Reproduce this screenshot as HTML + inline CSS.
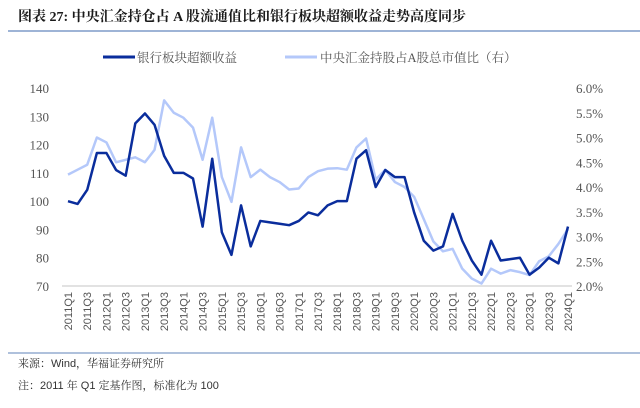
<!DOCTYPE html>
<html><head><meta charset="utf-8"><style>
body{margin:0;background:#fff;width:640px;height:403px;overflow:hidden;font-family:"Liberation Serif","Noto Serif CJK SC",serif;}
</style></head><body>
<svg width="640" height="403" xmlns="http://www.w3.org/2000/svg">
<text x="18" y="21" font-size="14" font-weight="bold" fill="#1a1a1a" font-family="Liberation Serif, Noto Serif CJK SC, serif">图表 27:  中央汇金持仓占 A 股流通值比和银行板块超额收益走势高度同步</text>
<line x1="8" y1="31" x2="640" y2="31" stroke="#7f9cc8" stroke-width="1.5"/>
<g font-family="Liberation Serif, Noto Serif CJK SC, serif" font-size="12.5" fill="#555">
<line x1="103" y1="57" x2="135" y2="57" stroke="#0a2d9c" stroke-width="3"/>
<text x="137" y="62">银行板块超额收益</text>
<line x1="285" y1="57" x2="317" y2="57" stroke="#b4c8fa" stroke-width="3"/>
<text x="320" y="62">中央汇金持股占A股总市值比（右）</text>
</g>
<g id="plot"></g>
<line x1="8" y1="353" x2="640" y2="353" stroke="#7f9cc8" stroke-width="1.2"/>
<text x="18" y="367" font-size="11" fill="#333" font-family="Liberation Sans, Noto Serif CJK SC, sans-serif">来源：Wind，华福证券研究所</text>
<text x="18" y="389" font-size="11" fill="#333" font-family="Liberation Sans, Noto Serif CJK SC, sans-serif">注：2011 年 Q1 定基作图，标准化为 100</text>
</svg>
<script>
const bankValues=[100,99,104,117,117,111,109,127.5,131,127,116,110,110,108,91,115,89,81,98.5,84,93,92.5,92,91.5,93,96,95,98.5,100,100,115,118,105,111,108.5,108.5,96,86,82.5,84,95.5,86,79,74,86,79,79.5,80,74,76.5,80,78,91];
const huijinValues=[4.25,4.35,4.45,5.0,4.9,4.5,4.55,4.6,4.5,4.75,5.75,5.5,5.4,5.2,4.55,5.4,4.2,3.7,4.8,4.2,4.35,4.2,4.1,3.95,3.97,4.2,4.32,4.37,4.38,4.35,4.8,4.98,4.15,4.35,4.1,4.0,3.8,3.35,2.9,2.7,2.75,2.35,2.15,2.05,2.35,2.25,2.32,2.28,2.22,2.5,2.6,2.85,3.15];
const leftTicks=[70,80,90,100,110,120,130,140];
const rightTicks=[2.0,2.5,3.0,3.5,4.0,4.5,5.0,5.5,6.0];
const startYear=2011;
const NS="http://www.w3.org/2000/svg";
const g=document.getElementById('plot');
const x0=68,x1=568,yTop=88,yBot=286;
const n=bankValues.length;
const xs=i=>x0+i*(x1-x0)/(n-1);
const yl=v=>yBot-(v-70)/(140-70)*(yBot-yTop);
const yr=v=>yBot-(v-2)/(6-2)*(yBot-yTop);
function mk(t,a){const e=document.createElementNS(NS,t);for(const k in a)e.setAttribute(k,a[k]);g.appendChild(e);return e;}
let ax=mk('line',{x1:62,y1:yBot,x2:572,y2:yBot,stroke:'#d9d9d9','stroke-width':1.5});


leftTicks.forEach(v=>{const t=mk('text',{x:49,y:yl(v)+5,'text-anchor':'end','font-size':13,fill:'#555'});t.textContent=v;

});
rightTicks.forEach(v=>{const t=mk('text',{x:576,y:yr(v)+5,'font-size':13,fill:'#555'});t.textContent=v.toFixed(1)+'%';

});
for(let i=0;i<n;i+=2){const q=i%4;const lbl=(startYear+Math.floor(i/4))+'Q'+(q+1);
const x=xs(i);const t=mk('text',{x:x+4,y:292,'text-anchor':'end','font-size':11,fill:'#555',transform:`rotate(-90 ${x+4} 292)`,'font-family':'Liberation Sans, sans-serif'});
t.textContent=lbl;

}
let p2=mk('polyline',{points:huijinValues.map((v,i)=>xs(i)+','+yr(v)).join(' '),fill:'none',stroke:'#b4c8fa','stroke-width':2.5,'stroke-linejoin':'round'});


let p1=mk('polyline',{points:bankValues.map((v,i)=>xs(i)+','+yl(v)).join(' '),fill:'none',stroke:'#0a2d9c','stroke-width':2.5,'stroke-linejoin':'round'});


</script>
</body></html>
